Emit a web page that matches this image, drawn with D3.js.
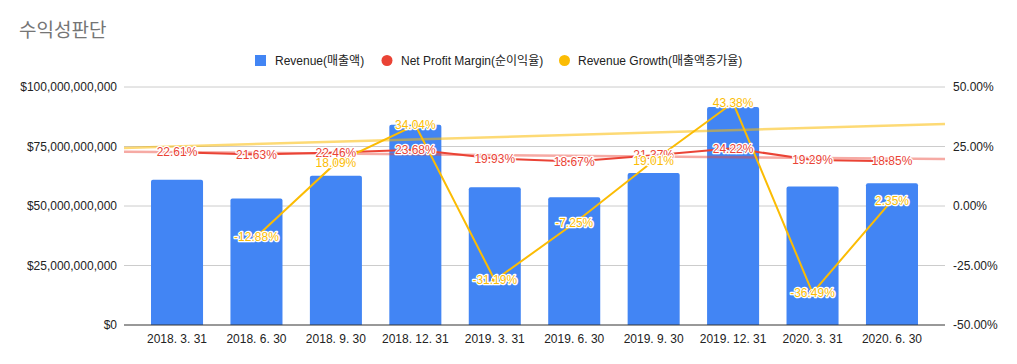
<!DOCTYPE html>
<html>
<head>
<meta charset="utf-8">
<title>수익성판단</title>
<script src="https://cdn.jsdelivr.net/npm/d3@7"></script>
<style>
  body{margin:0;background:#fff;}
  svg{font-family: Arial, "Liberation Sans", "Noto Sans CJK KR", sans-serif;}
</style>
</head>
<body>
<div id="chart"></div>
<script>
// quarters
var categories = ["2018. 3. 31","2018. 6. 30","2018. 9. 30","2018. 12. 31","2019. 3. 31",
                  "2019. 6. 30","2019. 9. 30","2019. 12. 31","2020. 3. 31","2020. 6. 30"];
// revenue in won
var revenue = [61.0e9, 53.14e9, 62.76e9, 84.12e9, 57.88e9, 53.69e9, 63.89e9, 91.61e9, 58.18e9, 59.55e9];
// percent values
var netMargin = [22.61, 21.63, 22.46, 23.68, 19.93, 18.67, 21.37, 24.22, 19.29, 18.85];
var growth = [null, -12.88, 18.09, 34.04, -31.19, -7.25, 19.01, 43.38, -36.49, 2.35];
// growth trendline value at left / right edge of the plot
var growthTrend = [24.4, 34.5];
var leftTicks = [0, 25e9, 50e9, 75e9, 100e9];
var rightTicks = [-50, -25, 0, 25, 50];

var W = 1017, H = 364;
var plotL = 124, plotR = 945, plotT = 87, plotB = 325;
var colors = {rev:"#4285f4", margin:"#ea4335", growth:"#fbbc04"};

var svg = d3.select("#chart").append("svg").attr("width", W).attr("height", H);

var x = d3.scaleBand().domain(categories).range([plotL, plotR]).paddingInner(0.345).paddingOuter(0.34);
var yL = d3.scaleLinear().domain([0, 100e9]).range([plotB, plotT]);
var yR = d3.scaleLinear().domain([-50, 50]).range([plotB, plotT]);
var cx = function(c){ return x(c) + x.bandwidth()/2; };

// title
svg.append("text").attr("x", 19).attr("y", 37).text("수익성판단")
  .attr("font-size", 19).attr("fill", "#757575");

// gridlines
svg.append("g").selectAll("line").data(leftTicks.slice(1)).join("line")
  .attr("x1", plotL).attr("x2", plotR)
  .attr("y1", d => yL(d)).attr("y2", d => yL(d))
  .attr("stroke", "#cccccc").attr("stroke-width", 1);

// left axis labels
var fmt = d3.format(",");
svg.append("g").selectAll("text").data(leftTicks).join("text")
  .attr("x", 117).attr("y", d => yL(d)).attr("dy", "0.35em")
  .attr("text-anchor", "end").attr("font-size", 12).attr("fill", "#222")
  .text(d => "$" + fmt(d));

// right axis labels
svg.append("g").selectAll("text").data(rightTicks).join("text")
  .attr("x", 953).attr("y", d => yR(d)).attr("dy", "0.35em")
  .attr("font-size", 12).attr("fill", "#222")
  .text(d => d.toFixed(2) + "%");

// bars
var r = 2;
svg.append("g").selectAll("path").data(revenue).join("path")
  .attr("fill", colors.rev)
  .attr("d", function(d, i){
    var x0 = x(categories[i]), w = x.bandwidth(), y0 = yL(d), y1 = yL(0);
    return "M" + x0 + "," + y1 + "V" + (y0 + r) + "Q" + x0 + "," + y0 + " " + (x0 + r) + "," + y0 +
      "H" + (x0 + w - r) + "Q" + (x0 + w) + "," + y0 + " " + (x0 + w) + "," + (y0 + r) + "V" + y1 + "Z";
  });

// zero line
svg.append("line").attr("x1", plotL).attr("x2", plotR)
  .attr("y1", yL(0)).attr("y2", yL(0)).attr("stroke", "#333").attr("stroke-width", 1);

// x labels
svg.append("g").selectAll("text").data(categories).join("text")
  .attr("x", d => cx(d)).attr("y", 343).attr("text-anchor", "middle")
  .attr("font-size", 12).attr("fill", "#222").text(d => d);

// trendlines
var step = x.step();
var idxAt = function(px){ return (px - cx(categories[0])) / step; };
var mx = d3.mean(netMargin, (d, i) => i), my = d3.mean(netMargin);
var slope = d3.sum(netMargin, (d, i) => (i - mx) * (d - my)) / d3.sum(netMargin, (d, i) => (i - mx) * (i - mx));
var trendAt = function(px){ return my + slope * (idxAt(px) - mx); };
svg.append("line").attr("x1", plotL).attr("x2", plotR)
  .attr("y1", yR(trendAt(plotL))).attr("y2", yR(trendAt(plotR)))
  .attr("stroke", colors.margin).attr("stroke-opacity", 0.45).attr("stroke-width", 2.5);
svg.append("line").attr("x1", plotL).attr("x2", plotR)
  .attr("y1", yR(growthTrend[0])).attr("y2", yR(growthTrend[1]))
  .attr("stroke", colors.growth).attr("stroke-opacity", 0.55).attr("stroke-width", 2.5);

// series lines
var line = d3.line().defined(d => d.v != null).x(d => cx(d.c)).y(d => yR(d.v));
var marginPts = netMargin.map((v, i) => ({c: categories[i], v: v}));
var growthPts = growth.map((v, i) => ({c: categories[i], v: v}));

svg.append("path").datum(marginPts).attr("d", line)
  .attr("fill", "none").attr("stroke", colors.margin).attr("stroke-width", 2);
svg.append("path").datum(growthPts).attr("d", line)
  .attr("fill", "none").attr("stroke", colors.growth).attr("stroke-width", 2);

// labels
function labels(pts, col){
  var g = svg.append("g");
  var p = pts.filter(d => d.v != null);
  g.selectAll("circle").data(p).join("circle")
    .attr("cx", d => cx(d.c)).attr("cy", d => yR(d.v)).attr("r", 3.5)
    .attr("fill", col).attr("stroke", "#fff").attr("stroke-width", 1);
  g.selectAll("text").data(p).join("text")
    .attr("x", d => cx(d.c)).attr("y", d => yR(d.v)).attr("dy", "0.35em")
    .attr("text-anchor", "middle").attr("font-size", 12)
    .attr("fill", col).attr("stroke", "#fff").attr("stroke-width", 2.5)
    .attr("paint-order", "stroke").attr("stroke-linejoin", "round")
    .text(d => d.v.toFixed(2) + "%");
}
labels(marginPts, colors.margin);
labels(growthPts, colors.growth);

// legend
var leg = svg.append("g").attr("font-size", 12).attr("fill", "#222");
leg.append("rect").attr("x", 255).attr("y", 55).attr("width", 11).attr("height", 11).attr("fill", colors.rev);
leg.append("text").attr("x", 275).attr("y", 60.5).attr("dy", "0.35em").text("Revenue(매출액)");
leg.append("circle").attr("cx", 387).attr("cy", 60.5).attr("r", 5.5).attr("fill", colors.margin);
leg.append("text").attr("x", 401).attr("y", 60.5).attr("dy", "0.35em").text("Net Profit Margin(순이익율)");
leg.append("circle").attr("cx", 564.5).attr("cy", 60.5).attr("r", 5.5).attr("fill", colors.growth);
leg.append("text").attr("x", 578).attr("y", 60.5).attr("dy", "0.35em").text("Revenue Growth(매출액증가율)");
</script>
</body>
</html>
